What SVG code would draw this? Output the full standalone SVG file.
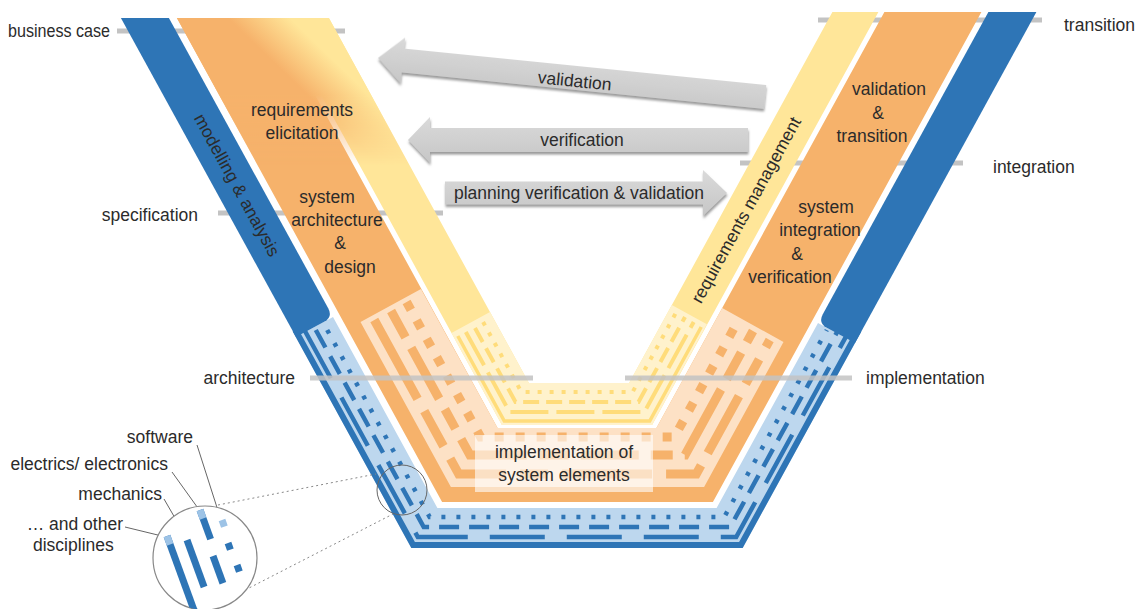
<svg xmlns="http://www.w3.org/2000/svg" width="1138" height="609" viewBox="0 0 1138 609">
<defs>
<style>
.t{font-family:"Liberation Sans",Arial,sans-serif;font-size:17.5px;fill:#2b2b2b}
.tm{text-anchor:middle}
.te{text-anchor:end}
.lvl{stroke:#c3c3c3;stroke-width:5;fill:none}
.lane{fill:none}
.bl{stroke:#2e75b6;stroke-width:4.5}
.or{stroke:#f6b26b;stroke-width:9}
.ye{stroke:#ffdc7a;stroke-width:4}
.arrow{fill:url(#arG);filter:url(#sh)}
.lead{stroke:#666;stroke-width:1;fill:none}
.dot{stroke:#888;stroke-width:1;stroke-dasharray:2 3;fill:none}
</style>
<linearGradient id="arG" x1="0" y1="0" x2="0" y2="1"><stop offset="0" stop-color="#dadada"/><stop offset="1" stop-color="#c6c6c6"/></linearGradient>
<filter id="sh" x="-5%" y="-30%" width="110%" height="170%"><feDropShadow dx="0.5" dy="2.5" stdDeviation="1" flood-color="#7a7a7a" flood-opacity="0.75"/></filter>
<linearGradient id="oyG" gradientUnits="userSpaceOnUse" x1="294" y1="82" x2="324" y2="51"><stop offset="0" stop-color="#f6b26b"/><stop offset="1" stop-color="#ffe699"/></linearGradient>
<linearGradient id="fadeG" gradientUnits="userSpaceOnUse" x1="0" y1="95" x2="0" y2="165"><stop offset="0" stop-color="#fff"/><stop offset="1" stop-color="#000"/></linearGradient>
<mask id="fadeM" maskUnits="userSpaceOnUse" x="0" y="0" width="1138" height="609"><rect x="0" y="0" width="1138" height="609" fill="url(#fadeG)"/></mask>
<clipPath id="bigC"><circle cx="205" cy="558" r="52"/></clipPath>
</defs>

<g id="level-lines">
<line class="lvl" x1="117" y1="31" x2="345" y2="31"/>
<line class="lvl" x1="818" y1="20" x2="1042" y2="20"/>
<line class="lvl" x1="740" y1="163" x2="963" y2="163"/>
<line class="lvl" x1="218" y1="213" x2="443" y2="213"/>
</g>

<g id="blue-band">
<polygon fill="#bdd7ee" points="296,337 411.3,548 742.7,548 855,343 818,323 716.6,508 437.4,508 333,317"/>
<polyline class="lane" stroke="#2e75b6" stroke-width="6" points="295.3,330 413.1,545 740.9,545 858.7,330"/>
<polyline class="lane bl" stroke-dasharray="55 22" points="304.4,330 417.8,537 736.2,537 849.6,330"/>
<polyline class="lane bl" stroke-dasharray="20 10" points="315.8,330 423.7,527 730.3,527 838.2,330"/>
<polyline class="lane bl" stroke-dasharray="4 11" points="327.2,330 429.6,517 724.3,517 826.8,330"/>
<path fill="#2e75b6" d="M120.9,18 L168.9,18 L328.2,308.2 Q333,317 324.2,321.8 L296,337 Z"/>
<path fill="#2e75b6" d="M1036.4,12 L988.4,12 L822.8,314.2 Q818,323 826.8,327.8 L855,343 Z"/>
<text class="t" font-size="18" transform="translate(237,185) rotate(61.3)" text-anchor="middle" y="6">modelling &amp; analysis</text>
</g>

<g id="orange-band">
<polygon fill="#f6b26b" points="176.9,18 442.1,502 712.9,502 981.4,12 884.4,12 656.4,428 497.6,428 272.9,18"/>
<path fill="#fde1c5" d="M421,289 L497.6,428 L656.4,428 L722.2,308 L783.5,342 L704.1,487 L450.9,487 L360.5,322 Z"/>
<polyline class="lane or" stroke-dasharray="90 14 40 14 65 14 28 14" points="374.3,320 458.7,474 696.3,474 769.7,340"/>
<polyline class="lane or" stroke-dasharray="30 12 58 12 22 12 75 12" points="391.1,311 469.9,455 685.1,455 753,331"/>
<polyline class="lane or" stroke-dasharray="9 12" points="406.6,302 480.6,437 674.4,437 737.4,322"/>
</g>

<g id="yellow-band">
<polygon fill="#ffe699" points="278.9,18 501.9,425 652.1,425 878.4,12 832.4,12 629.1,383 528.9,383 328.9,18"/>
<path fill="#fff2cc" d="M490,312 L528.9,383 L629.1,383 L671.8,305 L706.9,324.2 L652.1,425 L501.9,425 L451.5,333 Z"/>
<polyline class="lane" stroke="#ffdc7a" stroke-width="3.5" points="457.8,336 504.3,421 649.7,421 701.2,327"/>
<polyline class="lane ye" stroke-dasharray="38 8" points="465.8,332 509.6,412 644.4,412 693.7,322"/>
<polyline class="lane ye" stroke-dasharray="16 7" points="475,328 515.5,402 638.5,402 685,317"/>
<polyline class="lane ye" stroke-dasharray="4 8" points="483.1,322 521.4,392 632.6,392 675.8,313"/>
<polygon fill="url(#oyG)" mask="url(#fadeM)" points="176.9,18 328.9,18 412.2,170 260.2,170"/>
<text class="t" font-size="18" transform="translate(746,210) rotate(-61.3)" text-anchor="middle" y="6">requirements management</text>
</g>

<g id="level-lines-lower" opacity="0.85">
<line class="lvl" x1="310" y1="378" x2="533" y2="378"/>
<line class="lvl" x1="625" y1="378" x2="852" y2="378"/>
</g>

<g id="implementation">
<rect x="475" y="435" width="178" height="57" fill="#fff" fill-opacity="0.6"/>
<text class="t tm" x="564" y="458">implementation of</text>
<text class="t tm" x="564" y="481">system elements</text>
</g>

<g id="requirements-elicitation">
<text class="t tm" x="302" y="116">requirements</text>
<text class="t tm" x="302" y="139">elicitation</text>
</g>
<g id="system-architecture-design">
<text class="t tm" x="327" y="203">system</text>
<text class="t tm" x="337" y="226">architecture</text>
<text class="t tm" x="340" y="249">&amp;</text>
<text class="t tm" x="350" y="273">design</text>
</g>
<g id="validation-transition">
<text class="t tm" x="889" y="95">validation</text>
<text class="t tm" x="878" y="119">&amp;</text>
<text class="t tm" x="872" y="142">transition</text>
</g>
<g id="system-integration-verification">
<text class="t tm" x="826" y="213">system</text>
<text class="t tm" x="820" y="236">integration</text>
<text class="t tm" x="797" y="260">&amp;</text>
<text class="t tm" x="790" y="283">verification</text>
</g>

<g id="level-labels">
<text class="t" x="8" y="37" font-size="16.5" textLength="102" lengthAdjust="spacingAndGlyphs">business case</text>
<text class="t te" x="198" y="221">specification</text>
<text class="t te" x="295" y="384">architecture</text>
<text class="t" x="1064" y="31">transition</text>
<text class="t" x="993" y="173">integration</text>
<text class="t" x="866" y="384">implementation</text>
</g>

<g id="connectors">
<g transform="translate(378,58) rotate(5.75)">
<path class="arrow" d="M0,0 L25,-23 L25,-12 L389,-12 L389,12 L25,12 L25,23 Z"/>
<text class="t tm" x="198" y="9">validation</text>
</g>
<g transform="translate(408,140)">
<path class="arrow" d="M0,0 L22,-23 L22,-12 L340,-12 L340,12 L22,12 L22,23 Z"/>
<text class="t tm" x="174" y="6">verification</text>
</g>
<g transform="translate(727,193)">
<path class="arrow" d="M0,0 L-24,-23 L-24,-11.5 L-282,-11.5 L-282,11.5 L-24,11.5 L-24,23 Z"/>
<text class="t tm" x="-148" y="6">planning verification &amp; validation</text>
</g>
<path class="dot" d="M218,505 L376,474"/>
<path class="dot" d="M214,606 L393,514"/>
<path class="lead" d="M197,445 L221,520"/>
<path class="lead" d="M172,472 L200,511"/>
<path class="lead" d="M164,499 L186,537"/>
<path class="lead" d="M125,527 L166,537"/>
</g>

<g id="magnifier">
<circle cx="402" cy="490" r="25" fill="none" stroke="#666" stroke-width="1"/>
<circle cx="205" cy="558" r="52" fill="#fff" stroke="#888" stroke-width="1.2"/>
<g clip-path="url(#bigC)">
<g fill="#2e75b6">
<rect transform="translate(167,536) rotate(-20)" x="-3.5" y="0" width="7" height="80"/>
<rect transform="translate(187,540) rotate(-20)" x="-3.5" y="0" width="7" height="50"/>
<rect transform="translate(200,510) rotate(-20)" x="-3.5" y="0" width="7" height="31"/>
<rect transform="translate(213,556) rotate(-20)" x="-3.5" y="0" width="7" height="29"/>
<rect transform="translate(228,543) rotate(-20)" x="-3.5" y="0" width="7" height="7"/>
<rect transform="translate(237,565) rotate(-20)" x="-3.5" y="0" width="7" height="7"/>
</g>
<g fill="#9dc3e6">
<rect transform="translate(167,536) rotate(-20)" x="-3.5" y="0" width="7" height="9"/>
<rect transform="translate(200,510) rotate(-20)" x="-3.5" y="0" width="7" height="9"/>
<rect transform="translate(222,520) rotate(-20)" x="-3.5" y="0" width="7" height="7"/>
</g>
</g>
</g>

<g id="discipline-labels">
<text class="t te" x="193" y="443">software</text>
<text class="t te" x="168" y="470">electrics/ electronics</text>
<text class="t te" x="162" y="500">mechanics</text>
<text class="t te" x="123" y="530">… and other</text>
<text class="t" x="33" y="551">disciplines</text>
</g>
</svg>
